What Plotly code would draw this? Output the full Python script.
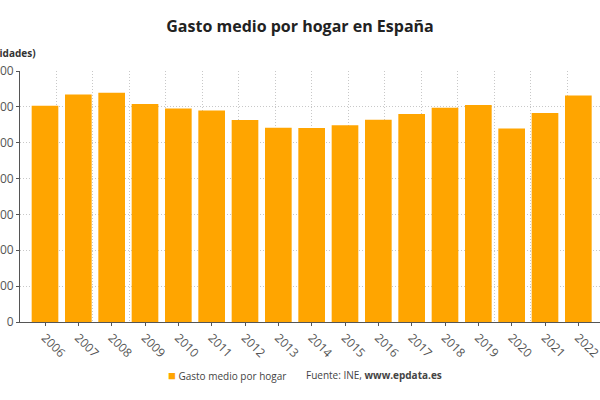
import plotly.graph_objects as go

years = [str(y) for y in range(2006, 2023)]
gasto = [30171, 31711, 31953, 30411, 29782, 29482, 28152, 27098, 27038,
         27420, 28200, 28988, 29871, 30243, 26996, 29150, 31568]

orange = '#FFA500'
grid = '#c8c8c8'
font = 'Open Sans'

fig = go.Figure()
fig.add_trace(go.Bar(x=years, y=gasto, marker_color=orange, marker_line_width=0,
                     name='Gasto medio por hogar', showlegend=False))
# helper trace so the overlay grid axis is drawn
fig.add_trace(go.Scatter(x=[None], y=[None], xaxis='x2', showlegend=False, hoverinfo='skip'))

fig.update_layout(
    width=600,
    height=400,
    margin=dict(l=20, r=0, t=71, b=78),
    paper_bgcolor='white',
    plot_bgcolor='white',
    separators=',.',
    font=dict(family=font, size=12, color='#555555'),
    bargap=0.2,
    title=dict(text='<b>Gasto medio por hogar en España</b>', x=0.5, xref='container',
               y=1 - 26 / 400, yanchor='middle', font=dict(size=16, color='#222222')),
    xaxis=dict(type='category', range=[-0.75, 16.65], tickangle=45,
               showgrid=False, showline=True, linecolor='#555555', linewidth=1,
               ticks='outside', ticklen=3, tickcolor='#555555', automargin=False,
               tickfont=dict(size=12, color='#555555')),
    xaxis2=dict(overlaying='x', anchor='y', range=[0, 15.9], dtick=1,
                showgrid=True, gridcolor=grid, griddash='1px,2px', gridwidth=1,
                showticklabels=False, ticks='', zeroline=False, showline=False,
                automargin=False),
    yaxis=dict(range=[0, 35000], dtick=5000, tickformat=',d',
               showgrid=True, gridcolor=grid, griddash='1px,2px', gridwidth=1,
               zeroline=False, showline=True, linecolor='#555555', linewidth=1,
               ticks='outside', ticklen=3, tickcolor='#555555', automargin=False,
               tickfont=dict(size=12, color='#555555')),
    annotations=[
        dict(text='<b>(Unidades)</b>', xref='paper', yref='paper', x=0, y=1.0717,
             xanchor='right', yanchor='middle', xshift=18, showarrow=False,
             font=dict(size=10, color='#333333')),
        dict(text='<span style="color:#FFA500;font-size:13px">■</span> Gasto medio por hogar',
             xref='paper', yref='paper', x=(166 - 20) / 580, y=-0.211,
             xanchor='left', yanchor='middle', showarrow=False,
             font=dict(size=10, color='#444444')),
        dict(text='Fuente: INE, <b>www.epdata.es</b>',
             xref='paper', yref='paper', x=(304 - 20) / 580, y=-0.211,
             xanchor='left', yanchor='middle', showarrow=False,
             font=dict(size=10, color='#444444')),
    ],
)

# drop the default page margin so the figure sits at the window corner
fig.write_html("out.html", config={'displayModeBar': False},
               post_script="document.body.style.margin='0';")
